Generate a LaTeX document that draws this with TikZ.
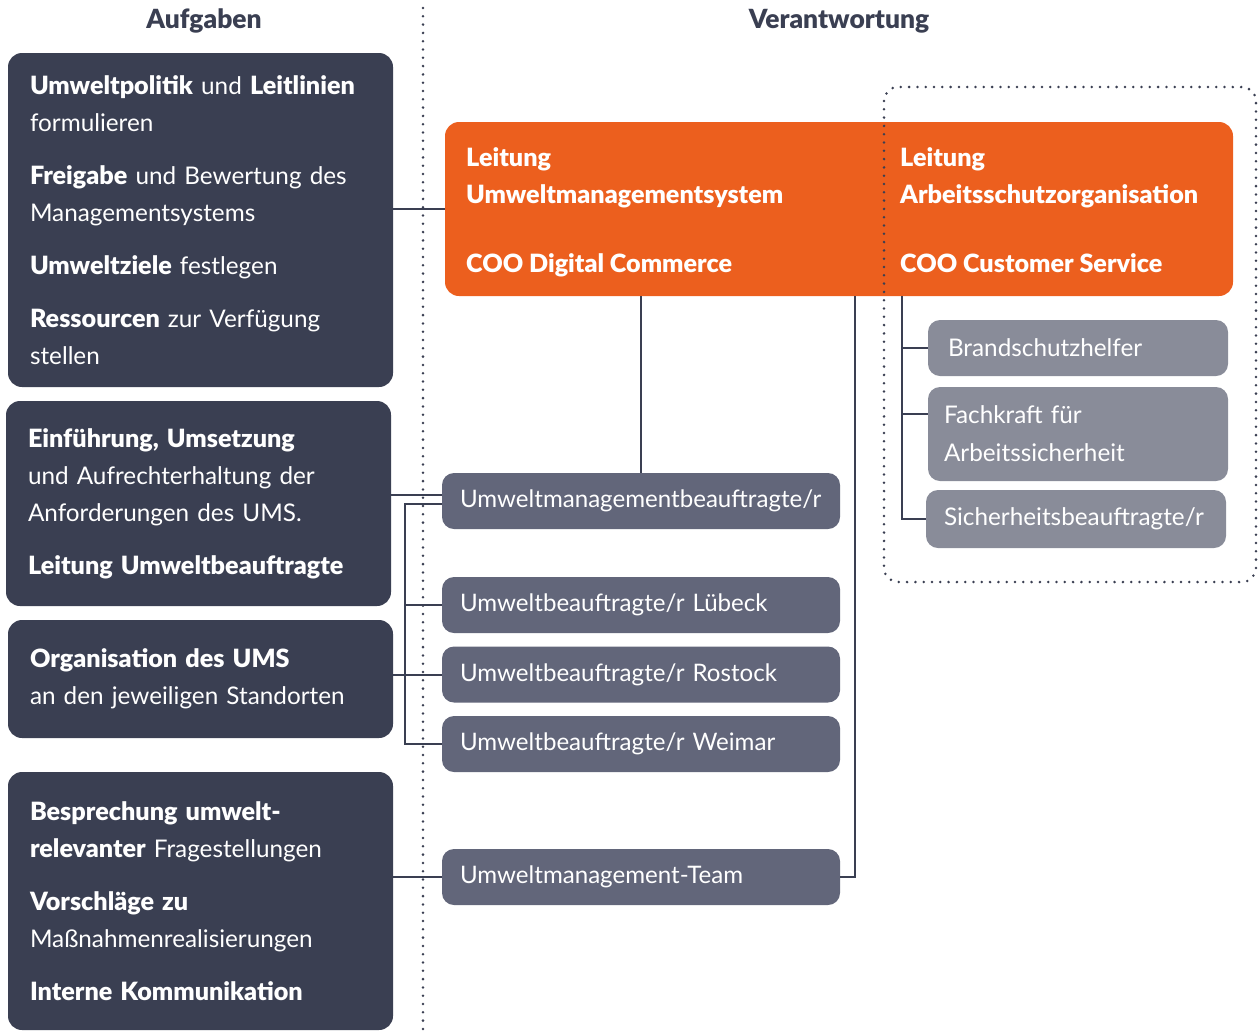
\documentclass[tikz,border=0pt]{standalone}
\usepackage{fontspec}
\setmainfont{Lato}[BoldFont={Lato Black},BoldFeatures={Scale=1.035}]
\usetikzlibrary{positioning}
\definecolor{dunkel}{HTML}{3A3F52}
\definecolor{mittel}{HTML}{62667A}
\definecolor{hell}{HTML}{898C99}
\definecolor{orange}{HTML}{EC5F1E}
\begin{document}
\begin{tikzpicture}[x=1pt,y=-1pt]
\tikzset{
  aufgabe/.style={fill=dunkel,rounded corners=14pt,text=white,align=left,
    inner xsep=22pt,inner ysep=0pt,font=\fontsize{24.3}{37}\selectfont},
  rolle/.style={fill=mittel,rounded corners=12pt,text=white,align=left,
    inner xsep=18pt,inner ysep=0pt,minimum width=398pt,minimum height=56pt,
    text width=362pt,font=\fontsize{24.1}{37}\selectfont},
  schutz/.style={fill=hell,rounded corners=12pt,text=white,align=left,
    inner xsep=16pt,inner ysep=0pt,minimum width=300pt,
    text width=268pt,font=\fontsize{24.3}{38}\selectfont},
  kopf/.style={font=\fontsize{25.5}{28}\selectfont\bfseries,text=dunkel},
  leitung/.style={anchor=north west,inner sep=0pt,align=left,text=white,
    font=\fontsize{24.3}{37}\selectfont\bfseries},
  verb/.style={draw=dunkel,line width=2pt},
  punkte/.style={draw=dunkel,line width=2.8pt,line cap=round,dash pattern=on 0pt off 8.3pt}
}
\useasboundingbox (0,0) rectangle (1260,1031);
% Spaltenkoepfe
\node[kopf] (kAuf) at (204,21) {Aufgaben};
\node[kopf] (kVer) at (839,21) {Verantwortung};
\draw[punkte] (423,8) -- (423,1031);
% Aufgaben
\node[aufgabe,minimum width=385pt,minimum height=334pt,text width=341pt] (auf1) at (200.5,220)
  {\textbf{Umweltpolitik} und \textbf{Leitlinien}\\ formulieren\\[16pt]
   \textbf{Freigabe} und Bewertung des\\ Managementsystems\\[16pt]
   \textbf{Umweltziele} festlegen\\[16pt]
   \textbf{Ressourcen} zur Verfügung\\ stellen};
\node[aufgabe,minimum width=385pt,minimum height=205pt,text width=341pt] (auf2) at (198.5,503.5)
  {\textbf{Einführung, Umsetzung}\\ und Aufrechterhaltung der\\ Anforderungen des UMS.\\[16pt]
   \textbf{Leitung Umweltbeauftragte}};
\node[aufgabe,minimum width=385pt,minimum height=118pt,text width=341pt] (auf3) at (200.5,679)
  {\textbf{Organisation des UMS}\\ an den jeweiligen Standorten};
\node[aufgabe,minimum width=385pt,minimum height=258pt,text width=341pt] (auf4) at (200.5,901)
  {\textbf{Besprechung umwelt-}\\ \textbf{relevanter} Fragestellungen\\[16pt]
   \textbf{Vorschläge zu}\\ Maßnahmenrealisierungen\\[16pt]
   \textbf{Interne Kommunikation}};
% Leitung
\node[fill=orange,rounded corners=14pt,minimum width=788pt,minimum height=174pt] (ltg) at (839,209) {};
\node[leitung] (ltgUms) at (466,147)
  {Leitung\\ Umweltmanagementsystem\\[32pt] COO Digital Commerce};
\node[leitung] (ltgAso) at (900,147)
  {Leitung\\ Arbeitsschutzorganisation\\[32pt] COO Customer Service};
\draw[punkte,rounded corners=14pt] (884,87) rectangle (1256,582);
% Rollen
\node[rolle] (umb) at (641,501) {Umweltmanagementbeauftragte/r};
\node[rolle] (luebeck) at (641,605) {Umweltbeauftragte/r Lübeck};
\node[rolle] (rostock) at (641,674.5) {Umweltbeauftragte/r Rostock};
\node[rolle] (weimar) at (641,744) {Umweltbeauftragte/r Weimar};
\node[rolle] (team) at (641,877) {Umweltmanagement-Team};
\node[schutz,minimum height=56pt] (brand) at (1078,348) {\hspace*{4pt}Brandschutzhelfer};
\node[schutz,minimum height=94pt] (fach) at (1078,434) {Fachkraft für\\ Arbeitssicherheit};
\node[schutz,minimum height=58pt] (sich) at (1076,519) {\hspace*{2pt}Sicherheitsbeauftragte/r};
% Verbindungen
\coordinate (umsSpine) at (641,296);
\coordinate (teamSpine) at (855,296);
\coordinate (asoSpine) at (902,296);
\coordinate (standSpine) at (405,504);
\draw[verb] (auf1.east |- ltg.west) -- (ltg.west);
\draw[verb] (umsSpine) -- (umsSpine |- umb.north);
\draw[verb] (auf2.east |- 0,495) -- (umb.west |- 0,495);
\draw[verb] (umb.west |- standSpine) -- (standSpine) |- (weimar.west);
\draw[verb] (standSpine |- luebeck.west) -- (luebeck.west);
\draw[verb] (auf3.east |- rostock.west) -- (rostock.west);
\draw[verb] (teamSpine) |- (team.east);
\draw[verb] (auf4.east |- team.west) -- (team.west);
\draw[verb] (asoSpine) |- (sich.west);
\draw[verb] (asoSpine |- brand.west) -- (brand.west);
\draw[verb] (asoSpine |- 0,414) -- (fach.west |- 0,414);
\end{tikzpicture}
\end{document}
